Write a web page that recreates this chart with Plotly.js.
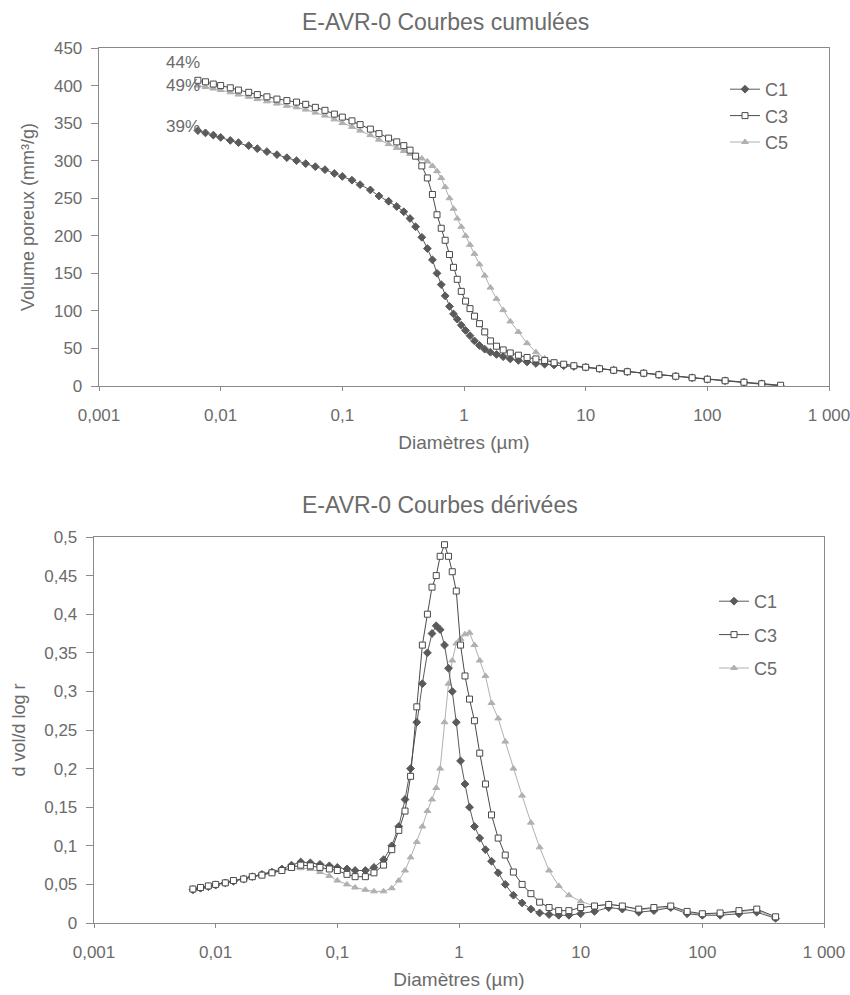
<!DOCTYPE html>
<html>
<head>
<meta charset="utf-8">
<script src="https://cdn.plot.ly/plotly-3.0.1.min.js"></script>
<style>html,body{margin:0;padding:0;background:#fff;}#chart{width:850px;height:995px;}</style>
</head>
<body>
<div id="chart"></div>
<script>
// Pore diameters (µm), shared by all series
const diam = [0.0065, 0.0075, 0.0087, 0.010, 0.012, 0.014, 0.017, 0.020, 0.024, 0.029, 0.035, 0.042, 0.050, 0.060, 0.072, 0.086,
  0.10, 0.12, 0.14, 0.17, 0.20, 0.24, 0.28, 0.32, 0.36, 0.40, 0.45, 0.50, 0.55, 0.60, 0.65, 0.70, 0.76, 0.82, 0.88, 0.95,
  1.03, 1.12, 1.22, 1.34, 1.48, 1.65, 1.85, 2.1, 2.4, 2.8, 3.3, 3.9, 4.6, 5.5, 6.6, 8.0, 10, 13, 17, 22, 30, 40, 55, 75,
  100, 140, 200, 280, 400];

// Cumulative pore volume (mm³/g)
const cumC1 = [340, 337, 334, 331, 327, 324, 320, 316, 312, 308, 304, 300, 296, 292, 288, 283,
  279, 274, 268, 261, 253, 246, 239, 232, 223, 212, 198, 183, 168, 150, 135, 120, 106, 96, 89, 81,
  74, 67, 60, 54, 49, 45, 42, 39, 36, 34, 32, 30, 29, 28, 27, 26, 25, 23, 21, 19, 17, 15, 13, 11,
  9, 7, 5, 3, 0];
const cumC3 = [407, 405, 402, 400, 397, 394, 391, 388, 385, 382, 380, 378, 375, 371, 367, 362,
  358, 353, 348, 342, 336, 330, 325, 320, 314, 306, 293, 277, 255, 228, 210, 194, 175, 158, 142, 126,
  113, 103, 93, 83, 72, 60, 53, 48, 44, 41, 38, 36, 34, 31, 29, 27, 25, 23, 21, 19, 17, 15, 13, 11,
  9, 7, 5, 3, 1];
const cumC5 = [400, 398, 396, 394, 391, 388, 385, 382, 379, 376, 373, 371, 368, 364, 360, 355,
  350, 345, 340, 334, 328, 322, 317, 313, 309, 306, 303, 299, 293, 286, 277, 265, 250, 236, 223, 212,
  200, 188, 176, 162, 147, 131, 116, 101, 86, 72, 57, 45, 37, 32, 29, 27, 25, 23, 21, 19, 17, 15, 13, 11,
  9, 7, 5, 3, 1];

// Derivative curves (d vol / d log r)
const derC1 = [0.043, 0.045, 0.047, 0.049, 0.052, 0.054, 0.057, 0.060, 0.063, 0.066, 0.070, 0.075, 0.079, 0.078, 0.076, 0.074,
  0.072, 0.070, 0.068, 0.068, 0.072, 0.082, 0.100, 0.125, 0.160, 0.200, 0.260, 0.310, 0.350, 0.375, 0.385, 0.380, 0.360, 0.330, 0.300, 0.260,
  0.210, 0.180, 0.150, 0.125, 0.110, 0.095, 0.080, 0.065, 0.050, 0.036, 0.026, 0.018, 0.013, 0.011, 0.010, 0.010, 0.012, 0.015, 0.020, 0.018, 0.014, 0.016, 0.020, 0.012,
  0.010, 0.010, 0.012, 0.014, 0.006];
const derC3 = [0.044, 0.046, 0.048, 0.050, 0.052, 0.055, 0.057, 0.060, 0.062, 0.065, 0.068, 0.072, 0.075, 0.074, 0.072, 0.070,
  0.068, 0.063, 0.060, 0.060, 0.065, 0.075, 0.095, 0.120, 0.145, 0.190, 0.280, 0.360, 0.400, 0.435, 0.450, 0.475, 0.490, 0.475, 0.455, 0.430,
  0.360, 0.320, 0.290, 0.262, 0.220, 0.180, 0.140, 0.110, 0.088, 0.066, 0.050, 0.038, 0.027, 0.020, 0.016, 0.016, 0.020, 0.022, 0.024, 0.022, 0.018, 0.020, 0.022, 0.015,
  0.012, 0.013, 0.016, 0.018, 0.008];
const derC5 = [0.045, 0.046, 0.048, 0.050, 0.052, 0.055, 0.057, 0.060, 0.062, 0.065, 0.068, 0.070, 0.071, 0.070, 0.066, 0.061,
  0.055, 0.050, 0.046, 0.043, 0.041, 0.041, 0.045, 0.055, 0.068, 0.085, 0.105, 0.125, 0.145, 0.160, 0.175, 0.200, 0.260, 0.310, 0.340, 0.362,
  0.368, 0.374, 0.376, 0.360, 0.340, 0.320, 0.285, 0.265, 0.235, 0.200, 0.165, 0.130, 0.098, 0.068, 0.048, 0.036, 0.028, 0.022, 0.025, 0.022, 0.017, 0.019, 0.020, 0.014,
  0.011, 0.012, 0.015, 0.017, 0.006];

const seriesNames = ["C1", "C3", "C5"];
const pctLabels = ["39%", "44%", "49%"];
const xTickVals = [0.001, 0.01, 0.1, 1, 10, 100, 1000];
const xTickText = ["0,001", "0,01", "0,1", "1", "10", "100", "1 000"];
const titleTop = "E-AVR-0 Courbes cumulées";
const titleBottom = "E-AVR-0 Courbes dérivées";
const xTitle = "Diamètres (µm)";
const yTitleTop = "Volume poreux (mm³/g)";
const yTitleBottom = "d vol/d log r";

const FONT = "Liberation Sans, Arial, sans-serif";
const TXT = "#6b6b6b";
const styles = {
  C1: {symbol: "diamond", size: 6, color: "#5a5a5a", line: {color: "#5a5a5a", width: 1}},
  C3: {symbol: "square", size: 6, color: "#ffffff", line: {color: "#4a4a4a", width: 1}},
  C5: {symbol: "triangle-up", size: 6, color: "#b0b0b0", line: {color: "#b0b0b0", width: 1}}
};
const lineCol = {C1: "#5a5a5a", C3: "#4a4a4a", C5: "#b0b0b0"};
const rank = {C1: 1, C3: 2, C5: 3};

function tr(name, y, xa, ya, leg) {
  return {
    x: diam, y: y, name: name, type: "scatter", mode: "lines+markers",
    xaxis: xa, yaxis: ya, legend: leg, legendrank: rank[name], legendgroup: name + leg,
    line: {color: lineCol[name], width: 1},
    marker: styles[name]
  };
}

const data = [
  tr("C5", cumC5, "x", "y", "legend"),
  tr("C1", cumC1, "x", "y", "legend"),
  tr("C3", cumC3, "x", "y", "legend"),
  tr("C5", derC5, "x2", "y2", "legend2"),
  tr("C1", derC1, "x2", "y2", "legend2"),
  tr("C3", derC3, "x2", "y2", "legend2")
];

const axisCommon = {
  showline: true, linecolor: "#8a8a8a", linewidth: 1.3, mirror: true,
  showgrid: false, zeroline: false, ticks: "outside", ticklen: 7, tickcolor: "#8a8a8a",
  ticklabelstandoff: 5, ticklabeloverflow: "allow",
  tickfont: {family: FONT, size: 17, color: TXT}
};
const xCommon = Object.assign({}, axisCommon, {
  type: "log", range: [-3, 3], tickmode: "array", tickvals: xTickVals, ticktext: xTickText, ticklen: 4,
  ticklabelstandoff: 9
});

const layout = {
  width: 850, height: 995,
  margin: {l: 0, r: 0, t: 0, b: 0},
  paper_bgcolor: "#ffffff", plot_bgcolor: "#ffffff",
  separators: ", ",
  font: {family: FONT, color: TXT},
  showlegend: true,
  xaxis: Object.assign({}, xCommon, {domain: [99/850, 829/850], anchor: "y",
    title: {text: xTitle, font: {family: FONT, size: 19, color: TXT}, standoff: 12}}),
  yaxis: Object.assign({}, axisCommon, {domain: [(995-386)/995, (995-48)/995], anchor: "x",
    range: [0, 450], dtick: 50,
    title: {text: yTitleTop, font: {family: FONT, size: 18, color: TXT}, standoff: 14}}),
  xaxis2: Object.assign({}, xCommon, {domain: [94/850, 824/850], anchor: "y2",
    title: {text: xTitle, font: {family: FONT, size: 19, color: TXT}, standoff: 12}}),
  yaxis2: Object.assign({}, axisCommon, {domain: [(995-923)/995, (995-537)/995], anchor: "x2",
    range: [0, 0.5], dtick: 0.05,
    title: {text: yTitleBottom, font: {family: FONT, size: 18, color: TXT}, standoff: 14}}),
  legend: {x: 725/850, y: (995-71)/995, xanchor: "left", yanchor: "top", bgcolor: "rgba(0,0,0,0)",
    font: {family: FONT, size: 18, color: TXT}, tracegroupgap: 0, itemwidth: 30},
  legend2: {x: 714/850, y: (995-583)/995, xanchor: "left", yanchor: "top", bgcolor: "rgba(0,0,0,0)",
    font: {family: FONT, size: 18, color: TXT}, tracegroupgap: 7, itemwidth: 30},
  annotations: [
    {text: titleTop, xref: "paper", yref: "paper", x: 446/850, y: (995-22)/995, xanchor: "center", yanchor: "middle",
      showarrow: false, font: {family: FONT, size: 23, color: TXT}},
    {text: titleBottom, xref: "paper", yref: "paper", x: 440/850, y: (995-505)/995, xanchor: "center", yanchor: "middle",
      showarrow: false, font: {family: FONT, size: 23, color: TXT}},
    {text: pctLabels[0], xref: "x", yref: "y", x: Math.log10(diam[0]), y: cumC1[0], yshift: 4, xshift: 4, xanchor: "right", yanchor: "middle",
      showarrow: false, font: {family: FONT, size: 17, color: TXT}},
    {text: pctLabels[1], xref: "x", yref: "y", x: Math.log10(diam[0]), y: cumC3[0], yshift: 18, xshift: 4, xanchor: "right", yanchor: "middle",
      showarrow: false, font: {family: FONT, size: 17, color: TXT}},
    {text: pctLabels[2], xref: "x", yref: "y", x: Math.log10(diam[0]), y: cumC5[0], yshift: 0, xshift: 4, xanchor: "right", yanchor: "middle",
      showarrow: false, font: {family: FONT, size: 17, color: TXT}}
  ]
};

Plotly.newPlot("chart", data, layout, {displayModeBar: false, staticPlot: true});
</script>
</body>
</html>
